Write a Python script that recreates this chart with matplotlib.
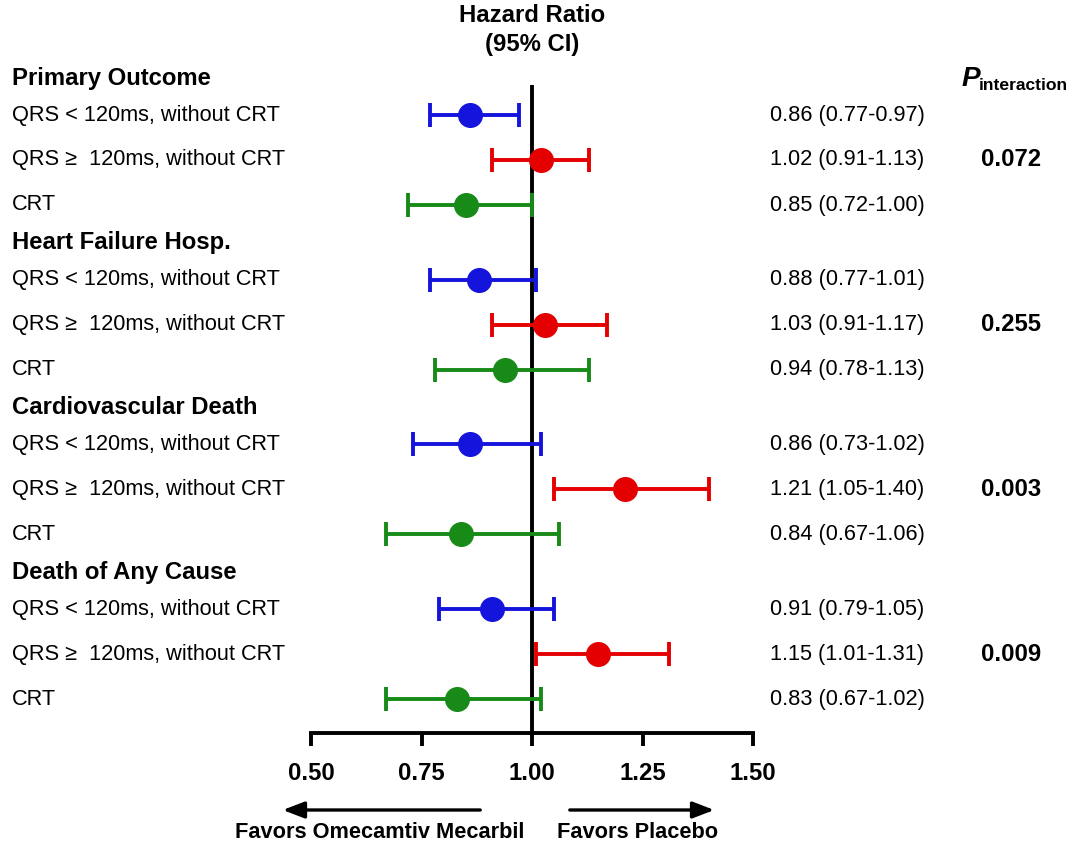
import matplotlib.pyplot as plt
from matplotlib.transforms import blended_transform_factory

plt.rcParams['font.family'] = ['Liberation Sans', 'DejaVu Sans']

# data
outcomes = ['Primary Outcome', 'Heart Failure Hosp.', 'Cardiovascular Death', 'Death of Any Cause']
subgroups = ['QRS < 120ms, without CRT', 'QRS \u2265  120ms, without CRT', 'CRT']
hr = [[0.86, 1.02, 0.85],
      [0.88, 1.03, 0.94],
      [0.86, 1.21, 0.84],
      [0.91, 1.15, 0.83]]
lo = [[0.77, 0.91, 0.72],
      [0.77, 0.91, 0.78],
      [0.73, 1.05, 0.67],
      [0.79, 1.01, 0.67]]
hi = [[0.97, 1.13, 1.00],
      [1.01, 1.17, 1.13],
      [1.02, 1.40, 1.06],
      [1.05, 1.31, 1.02]]
p_int = ['0.072', '0.255', '0.003', '0.009']
xticks = [0.50, 0.75, 1.00, 1.25, 1.50]
colors = ['#1414dc', '#e40000', '#178a17']

W, H = 1080, 843
fig = plt.figure(figsize=(W / 100, H / 100), dpi=100)
# axes area in pixels: x 311..753, y 85..733 (from top)
ax = fig.add_axes([311 / W, 1 - 733 / H, (753 - 311) / W, (733 - 85) / H])
ax.set_xlim(0.5, 1.5)
ax.set_ylim(733, 85)  # y units = pixel rows from top

fs = 15.7
fb = 17.2
lab = blended_transform_factory(fig.transFigure, ax.transData)

first_row = 115
group_step = 164.7
row_step = 45
for g, name in enumerate(outcomes):
    y0 = first_row + g * group_step
    ax.text(12 / W, y0 - 37, name, transform=lab, fontsize=fb,
            fontweight='bold', va='center', ha='left')
    for i, sub in enumerate(subgroups):
        y = y0 + i * row_step
        ax.errorbar(hr[g][i], y,
                    xerr=[[hr[g][i] - lo[g][i]], [hi[g][i] - hr[g][i]]],
                    fmt='o', color=colors[i], ms=17, elinewidth=2.8,
                    capsize=8.5, capthick=2.8, zorder=3, clip_on=False)
        ax.text(12 / W, y, sub, transform=lab, fontsize=fs, va='center', ha='left')
        ax.text(770 / W, y, '%.2f (%.2f-%.2f)' % (hr[g][i], lo[g][i], hi[g][i]),
                transform=lab, fontsize=fs, va='center', ha='left')
        if i == 1:
            ax.text(1011 / W, y, p_int[g], transform=lab, fontsize=fb,
                    fontweight='bold', va='center', ha='center')

# reference line
ax.axvline(1.0, color='black', lw=2.8, zorder=2)

# axis
for s in ['top', 'right', 'left']:
    ax.spines[s].set_visible(False)
ax.spines['bottom'].set_linewidth(2.8)
ax.set_yticks([])
ax.set_xticks(xticks)
ax.set_xticklabels(['%.2f' % t for t in xticks], fontsize=fb, fontweight='bold')
ax.tick_params(axis='x', direction='out', length=9, width=2.8, pad=12)

# headers
fig.text(532 / W, 1 - 16 / H, 'Hazard Ratio', ha='center', va='center',
         fontsize=fb, fontweight='bold')
fig.text(532 / W, 1 - 44 / H, '(95% CI)', ha='center', va='center',
         fontsize=fb, fontweight='bold')
fig.text(961 / W, 1 - 79 / H, 'P', ha='left', va='center', fontsize=fb + 3,
         fontweight='bold', style='italic')
fig.text(979 / W, 1 - 86 / H, 'interaction', ha='left', va='center',
         fontsize=12.6, fontweight='bold')

# favors arrows
ax.annotate('', xy=(280 / W, 1 - 810 / H), xytext=(483 / W, 1 - 810 / H),
            xycoords='figure fraction',
            arrowprops=dict(arrowstyle='-|>,head_length=1.3,head_width=0.5',
                            color='black', lw=2.4))
ax.annotate('', xy=(717 / W, 1 - 810 / H), xytext=(567 / W, 1 - 810 / H),
            xycoords='figure fraction',
            arrowprops=dict(arrowstyle='-|>,head_length=1.3,head_width=0.5',
                            color='black', lw=2.4))
fig.text(380 / W, 1 - 832 / H, 'Favors Omecamtiv Mecarbil', ha='center',
         va='center', fontsize=fs, fontweight='bold')
fig.text(638 / W, 1 - 832 / H, 'Favors Placebo', ha='center',
         va='center', fontsize=fs, fontweight='bold')

fig.savefig('out.png', dpi=100)
